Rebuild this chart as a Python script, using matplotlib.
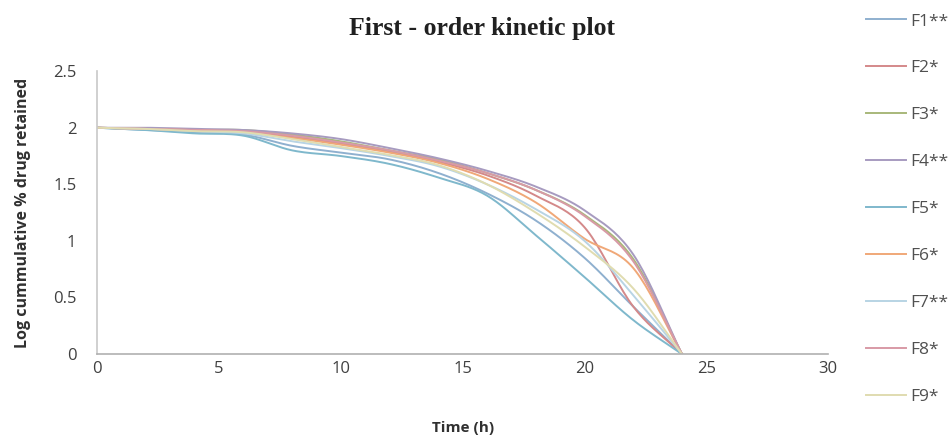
import matplotlib
matplotlib.use('Agg')
import matplotlib.pyplot as plt
import numpy as np

# time points (h)
time_h = [0, 2, 4, 6, 8, 10, 12, 14, 16, 18, 20, 22, 24]

# log cumulative % drug retained for each formulation
F1 = [2.0, 1.98, 1.96, 1.94, 1.84, 1.78, 1.72, 1.60, 1.42, 1.18, 0.85, 0.42, 0.0]
F2 = [2.0, 1.99, 1.98, 1.97, 1.92, 1.86, 1.79, 1.70, 1.58, 1.40, 1.12, 0.42, 0.0]
F3 = [2.0, 1.99, 1.98, 1.98, 1.94, 1.88, 1.80, 1.72, 1.60, 1.45, 1.23, 0.84, 0.0]
F4 = [2.0, 2.00, 1.99, 1.98, 1.95, 1.90, 1.82, 1.73, 1.62, 1.48, 1.27, 0.88, 0.0]
F5 = [2.0, 1.98, 1.95, 1.93, 1.80, 1.75, 1.68, 1.56, 1.40, 1.05, 0.68, 0.30, 0.0]
F6 = [2.0, 1.99, 1.98, 1.96, 1.91, 1.85, 1.78, 1.69, 1.55, 1.34, 1.02, 0.76, 0.0]
F7 = [2.0, 1.99, 1.97, 1.95, 1.88, 1.82, 1.75, 1.66, 1.50, 1.28, 1.00, 0.52, 0.0]
F8 = [2.0, 1.99, 1.98, 1.97, 1.93, 1.87, 1.80, 1.71, 1.60, 1.45, 1.22, 0.82, 0.0]
F9 = [2.0, 1.99, 1.97, 1.96, 1.90, 1.83, 1.76, 1.67, 1.50, 1.25, 0.95, 0.58, 0.0]

labels = ['F1**', 'F2*', 'F3*', 'F4**', 'F5*', 'F6*', 'F7**', 'F8*', 'F9*']
series = [F1, F2, F3, F4, F5, F6, F7, F8, F9]
colors = ['#8fb0cf', '#d4898a', '#a8b87a', '#a79bc0', '#7fb8cc',
          '#f0a878', '#b8d4e4', '#d89aa6', '#e0dcb0']


def smooth(x, y, n=20):
    """Catmull-Rom curve through the points, like Excel's smoothed lines."""
    x = np.asarray(x, float)
    y = np.asarray(y, float)
    px = np.concatenate([[2 * x[0] - x[1]], x, [2 * x[-1] - x[-2]]])
    py = np.concatenate([[2 * y[0] - y[1]], y, [2 * y[-1] - y[-2]]])
    xs, ys = [], []
    t = np.linspace(0, 1, n, endpoint=False)
    for i in range(1, len(px) - 2):
        for p, out in ((px, xs), (py, ys)):
            p0, p1, p2, p3 = p[i - 1], p[i], p[i + 1], p[i + 2]
            out.extend(0.5 * ((2 * p1) + (-p0 + p2) * t
                              + (2 * p0 - 5 * p1 + 4 * p2 - p3) * t ** 2
                              + (-p0 + 3 * p1 - 3 * p2 + p3) * t ** 3))
    xs.append(x[-1])
    ys.append(y[-1])
    return np.array(xs), np.array(ys)


plt.rcParams['font.family'] = ['Open Sans', 'DejaVu Sans']

fig = plt.figure(figsize=(9.53, 4.42), dpi=100)
ax = fig.add_axes([0.102, 0.199, 0.767, 0.640])

for ys, lab, c in zip(series, labels, colors):
    sx, sy = smooth(time_h, ys)
    ax.plot(sx, sy, color=c, lw=1.4, label=lab)

ax.set_xlim(0, 30)
ax.set_ylim(0, 2.5)
ax.set_xticks(range(0, 31, 5))
ax.set_yticks([0, 0.5, 1, 1.5, 2, 2.5])
ax.set_yticklabels(['0', '0.5', '1', '1.5', '2', '2.5'])
ax.tick_params(length=0, labelsize=12, colors='#404040')
ax.tick_params(axis='y', pad=15)
ax.tick_params(axis='x', pad=5)

for s in ['top', 'right']:
    ax.spines[s].set_visible(False)
ax.spines['left'].set_color('#c8c8c8')
ax.spines['bottom'].set_color('#b0b0b0')
ax.spines['left'].set_linewidth(1.2)
ax.spines['bottom'].set_linewidth(1.2)

ax.set_xlabel('Time (h)', fontsize=11, fontweight='bold', color='#303030', labelpad=32)
ax.set_ylabel('Log cummulative % drug retained', fontsize=11.5, fontweight='bold',
              color='#303030', labelpad=16)

fig.text(0.506, 0.935, 'First - order kinetic plot', ha='center', va='center',
         fontsize=18.5, fontweight='bold', family='Liberation Serif', color='#202020')

fig.legend(loc='upper left', bbox_to_anchor=(0.892, 1.005), frameon=False,
           fontsize=12.5, handlelength=2.3, handletextpad=0.25, labelspacing=1.77,
           labelcolor='#505050')

fig.savefig('out.png', dpi=100)
